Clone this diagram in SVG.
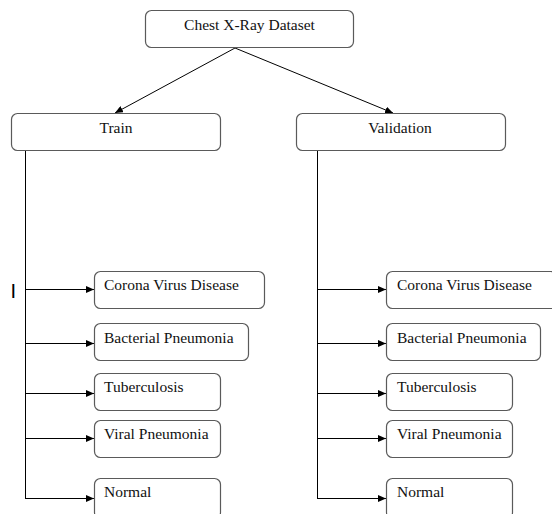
<svg xmlns="http://www.w3.org/2000/svg" width="552" height="514" viewBox="0 0 552 514">
<defs>
<style>
.box{fill:#fff;stroke:#5a5a5a;stroke-width:1.2}
.t{font-family:"Liberation Serif","Times New Roman",serif;font-size:15.5px;fill:#111}
.c{stroke:#000;stroke-width:1;fill:none}
</style>
<marker id="ah" viewBox="0 0 8 7" markerWidth="8" markerHeight="7" refX="8" refY="3.5" orient="auto" markerUnits="userSpaceOnUse">
<path d="M0,0 L8,3.5 L0,7 z" fill="#000"/>
</marker>
</defs>
<rect width="552" height="514" fill="#fff"/>
<g id="connectors">
<line class="c" x1="235" y1="48" x2="115" y2="113" marker-end="url(#ah)"/>
<line class="c" x1="235" y1="48" x2="393" y2="113" marker-end="url(#ah)"/>
<polyline class="c" points="25.5,151 25.5,498.5"/>
<line class="c" x1="25.5" y1="289.5" x2="94" y2="289.5" marker-end="url(#ah)"/>
<line class="c" x1="25.5" y1="343.5" x2="94" y2="343.5" marker-end="url(#ah)"/>
<line class="c" x1="25.5" y1="393.5" x2="94" y2="393.5" marker-end="url(#ah)"/>
<line class="c" x1="25.5" y1="438.5" x2="94" y2="438.5" marker-end="url(#ah)"/>
<line class="c" x1="25" y1="498.5" x2="94" y2="498.5" marker-end="url(#ah)"/>
<polyline class="c" points="317.5,151 317.5,498.5"/>
<line class="c" x1="317.5" y1="289.5" x2="386" y2="289.5" marker-end="url(#ah)"/>
<line class="c" x1="317.5" y1="343.5" x2="386" y2="343.5" marker-end="url(#ah)"/>
<line class="c" x1="317.5" y1="393.5" x2="386" y2="393.5" marker-end="url(#ah)"/>
<line class="c" x1="317.5" y1="438.5" x2="386" y2="438.5" marker-end="url(#ah)"/>
<line class="c" x1="317" y1="498.5" x2="386" y2="498.5" marker-end="url(#ah)"/>
</g>
<g id="root"><rect class="box" x="145.5" y="10.5" width="208" height="37" rx="6"/><text class="t" x="249.5" y="29.5" text-anchor="middle">Chest X-Ray Dataset</text></g>
<g id="train"><rect class="box" x="11.5" y="113.5" width="209" height="37" rx="6"/><text class="t" x="116" y="132.5" text-anchor="middle">Train</text></g>
<g id="validation"><rect class="box" x="296.5" y="113.5" width="209" height="37" rx="6"/><text class="t" x="400" y="132.5" text-anchor="middle">Validation</text></g>
<g id="train-covid"><rect class="box" x="94.5" y="271.5" width="170" height="37" rx="6"/><text class="t" x="104" y="289.5">Corona Virus Disease</text></g>
<g id="train-bact"><rect class="box" x="94.5" y="323.5" width="154" height="37" rx="6"/><text class="t" x="104" y="342.5">Bacterial Pneumonia</text></g>
<g id="train-tb"><rect class="box" x="94.5" y="373.5" width="126" height="37" rx="6"/><text class="t" x="104" y="391.5">Tuberculosis</text></g>
<g id="train-viral"><rect class="box" x="94.5" y="420.5" width="126" height="37" rx="6"/><text class="t" x="104" y="438.5">Viral Pneumonia</text></g>
<g id="train-normal"><rect class="box" x="94.5" y="478.5" width="126" height="40" rx="6"/><text class="t" x="104" y="497">Normal</text></g>
<g id="val-covid"><rect class="box" x="386.5" y="271.5" width="170" height="37" rx="6"/><text class="t" x="397" y="289.5">Corona Virus Disease</text></g>
<g id="val-bact"><rect class="box" x="386.5" y="323.5" width="154" height="37" rx="6"/><text class="t" x="397" y="342.5">Bacterial Pneumonia</text></g>
<g id="val-tb"><rect class="box" x="386.5" y="373.5" width="126" height="37" rx="6"/><text class="t" x="397" y="391.5">Tuberculosis</text></g>
<g id="val-viral"><rect class="box" x="386.5" y="420.5" width="126" height="37" rx="6"/><text class="t" x="397" y="438.5">Viral Pneumonia</text></g>
<g id="val-normal"><rect class="box" x="386.5" y="478.5" width="126" height="40" rx="6"/><text class="t" x="397" y="497">Normal</text></g>
<text x="10.5" y="298" style="font-family:'Liberation Sans',Arial,sans-serif;font-size:20px;fill:#000">I</text>
</svg>
